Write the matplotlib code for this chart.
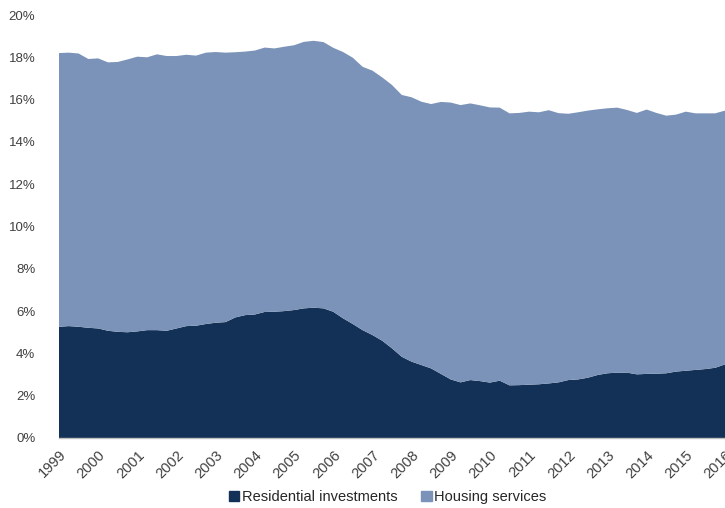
import numpy as np
import matplotlib
matplotlib.use('Agg')
import matplotlib.pyplot as plt
from matplotlib.patches import Patch

plt.rcParams['font.family'] = ['Liberation Sans', 'DejaVu Sans']

# quarterly share of GDP (%), 1999Q1 .. 2016Q1
residential = [5.26, 5.29, 5.26, 5.21, 5.18, 5.07, 5.02, 5.00, 5.04, 5.10,
               5.10, 5.07, 5.18, 5.29, 5.31, 5.39, 5.45, 5.48, 5.70, 5.81,
               5.84, 5.96, 5.97, 6.00, 6.05, 6.13, 6.16, 6.13, 5.97, 5.66,
               5.39, 5.10, 4.87, 4.60, 4.24, 3.84, 3.61, 3.45, 3.29, 3.03,
               2.77, 2.63, 2.74, 2.69, 2.62, 2.71, 2.49, 2.50, 2.52, 2.54,
               2.58, 2.63, 2.74, 2.77, 2.85, 2.98, 3.06, 3.09, 3.09, 3.01,
               3.03, 3.04, 3.06, 3.14, 3.18, 3.22, 3.26, 3.32, 3.48]
housing = [12.94, 12.93, 12.92, 12.71, 12.77, 12.69, 12.76, 12.90, 12.99, 12.90,
           13.04, 12.99, 12.88, 12.83, 12.77, 12.83, 12.80, 12.74, 12.54, 12.46,
           12.48, 12.50, 12.45, 12.50, 12.52, 12.60, 12.62, 12.59, 12.48, 12.59,
           12.59, 12.45, 12.50, 12.45, 12.45, 12.38, 12.50, 12.45, 12.50, 12.86,
           13.09, 13.11, 13.08, 13.04, 13.01, 12.91, 12.86, 12.87, 12.91, 12.86,
           12.92, 12.73, 12.59, 12.63, 12.63, 12.56, 12.53, 12.53, 12.42, 12.36,
           12.50, 12.33, 12.18, 12.15, 12.25, 12.13, 12.09, 12.03, 12.00]
years = list(range(1999, 2017))
labels = ['Residential investments', 'Housing services']
colors = ['#133156', '#7b93b8']

quarters = [1999 + i / 4 for i in range(len(residential))]

fig = plt.figure(figsize=(7.25, 5.08), dpi=100)
ax = fig.add_axes([59 / 725, 1 - 438 / 508, 1 - 59 / 725, (438 - 15) / 508])

ax.stackplot(quarters, residential, housing, colors=colors, linewidth=0)

ax.set_xlim(1999, 2016)
ax.set_ylim(0, 20)
ax.set_yticks(range(0, 21, 2))
ax.set_yticklabels([f'{v}%' for v in range(0, 21, 2)])
ax.set_xticks(years)
ax.set_xticklabels([str(y) for y in years], rotation=45, ha='right',
                   rotation_mode='anchor')

for s in ['top', 'right', 'left']:
    ax.spines[s].set_visible(False)
ax.spines['bottom'].set_color('#bfbfbf')
ax.spines['bottom'].set_linewidth(1)
ax.tick_params(axis='y', length=0, pad=17, labelsize=9.5, labelcolor='#404040')
ax.tick_params(axis='x', length=0, pad=7, labelsize=10.5, labelcolor='#404040')

handles = [Patch(color=c) for c in colors]
fig.legend(handles, labels, loc='center', bbox_to_anchor=(388 / 725, 1 - 497 / 508),
           ncol=2, frameon=False, fontsize=10.5, handlelength=0.7,
           handleheight=0.7, handletextpad=0.2, columnspacing=1.6,
           labelcolor='#262626')

fig.savefig('out.png', dpi=100)
